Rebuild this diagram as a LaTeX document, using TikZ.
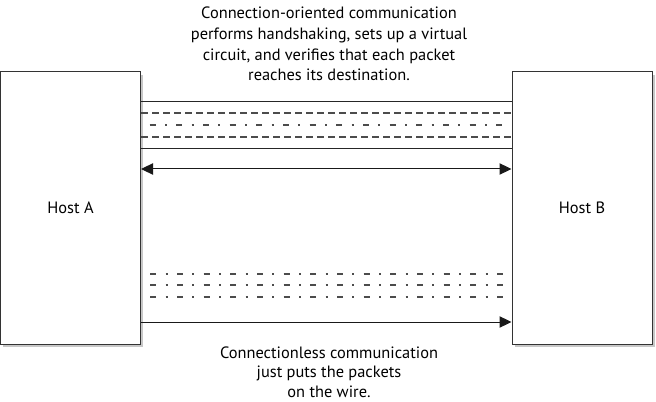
\documentclass[tikz,border=0pt]{standalone}
\usepackage{fontspec}
\setmainfont{PT Sans}
\usetikzlibrary{arrows.meta}
\begin{document}
\begin{tikzpicture}[x=0.75pt,y=-0.75pt]
    % Node styles
    \tikzset{
      host/.style={draw=black!80,fill=white,line width=0.75pt,inner sep=0pt,
        minimum width=105pt,minimum height=204pt,font=\fontsize{12.3}{14}\selectfont},
      host shadow/.style={fill=black!22,draw=none},
      note/.style={align=center,font=\fontsize{12.3}{15.4}\selectfont},
      wire/.style={draw=black!85,line width=0.75pt},
      long dash/.style={draw=black!70,line width=1pt,dash pattern=on 5.5pt off 2.75pt},
      dot dash/.style={draw=black!70,line width=1pt,dash pattern=on 4.5pt off 7pt on 1.5pt off 7pt},
      packet arrow/.style={draw=black!90,line width=0.75pt,-{Triangle[length=9pt,width=8.5pt]}}
    }
    \useasboundingbox (0,0) rectangle (656,402);

    % --- Shadows behind the hosts ---
    \fill[host shadow] (3,75) rectangle (143,347);
    \fill[host shadow] (515,75) rectangle (655,347);

    % --- Hosts ---
    \node[host] (hostA) at (70.5,208) {Host A};
    \node[host] (hostB) at (582,208) {Host B};

    % --- Virtual circuit (connection-oriented) ---
    \draw[wire] (hostA.east |- 0,102) -- (hostB.west |- 0,102);
    \draw[long dash] (hostA.east |- 0,113) -- (hostB.west |- 0,113);
    \draw[dot dash] ([xshift=6.5pt]hostA.east |- 0,125) -- ([xshift=-3pt]hostB.west |- 0,125);
    \draw[long dash] (hostA.east |- 0,137) -- (hostB.west |- 0,137);
    \draw[wire] (hostA.east |- 0,149) -- (hostB.west |- 0,149);

    % --- Handshake both ways ---
    \draw[packet arrow,{Triangle[length=9pt,width=8.5pt]}-{Triangle[length=9pt,width=8.5pt]}]
      (hostA.east |- 0,169) -- (hostB.west |- 0,169);

    % --- Connectionless packets ---
    \draw[dot dash] ([xshift=7pt]hostA.east |- 0,274) -- ([xshift=-3pt]hostB.west |- 0,274);
    \draw[dot dash] ([xshift=7pt]hostA.east |- 0,285) -- ([xshift=-3pt]hostB.west |- 0,285);
    \draw[dot dash] ([xshift=7pt]hostA.east |- 0,297) -- ([xshift=-3pt]hostB.west |- 0,297);
    \draw[packet arrow] (hostA.east |- 0,322) -- (hostB.west |- 0,322);

    % --- Notes ---
    \node[note] (topNote) at (329,44) {Connection-oriented communication\\
      performs handshaking, sets up a virtual\\
      circuit, and verifies that each packet\\
      reaches its destination.};
    \node[note,font=\fontsize{12.3}{14.6}\selectfont] (bottomNote) at (329,372) {Connectionless communication\\
      just puts the packets\\
      on the wire.};
\end{tikzpicture}
\end{document}
